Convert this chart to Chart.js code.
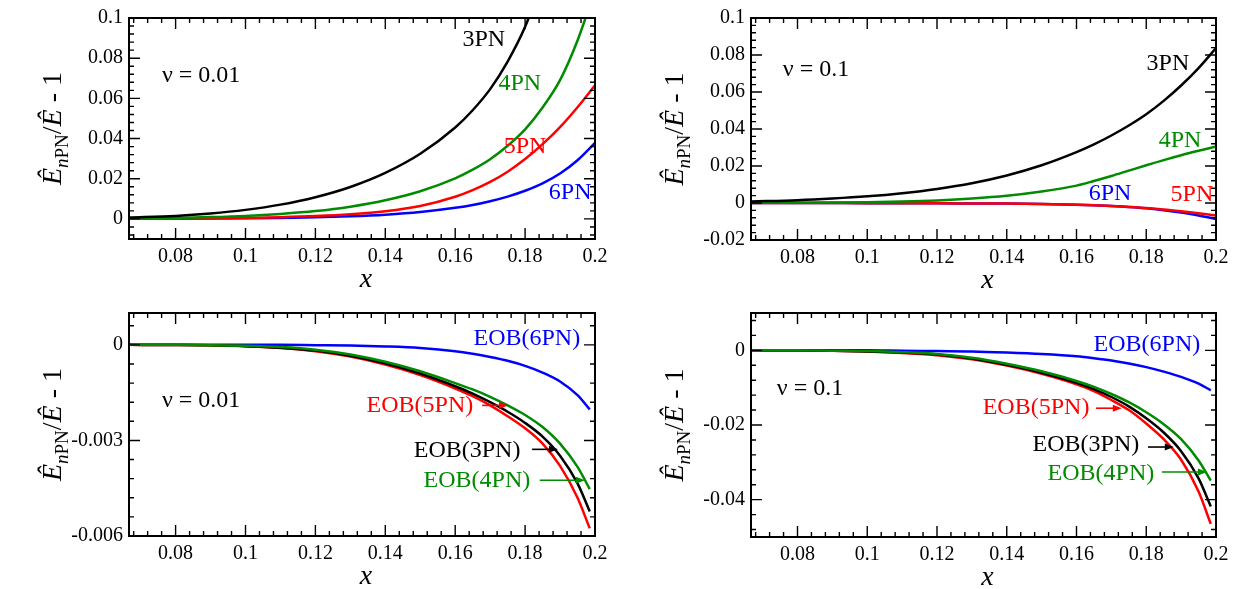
<!DOCTYPE html>
<html>
<head>
<meta charset="utf-8">
<script src="https://cdn.jsdelivr.net/npm/chart.js@4.4.1/dist/chart.umd.min.js"></script>
<style>
  html, body { margin: 0; padding: 0; background: #fff; }
  #wrap { position: relative; width: 1241px; height: 589px; background: #fff; }
  canvas { position: absolute; }
</style>
</head>
<body>
<div id="wrap">
  <canvas id="c1" width="620" height="295" style="left:0px;top:0px;width:620px;height:295px"></canvas>
  <canvas id="c2" width="621" height="295" style="left:620px;top:0px;width:621px;height:295px"></canvas>
  <canvas id="c3" width="620" height="294" style="left:0px;top:295px;width:620px;height:294px"></canvas>
  <canvas id="c4" width="621" height="294" style="left:620px;top:295px;width:621px;height:294px"></canvas>
</div>
<script>
// ---------------- DATA ----------------
const xGridPN  = [0.0667, 0.08, 0.09, 0.1, 0.11, 0.12, 0.13, 0.14, 0.15, 0.16, 0.165, 0.17, 0.175, 0.18, 0.185, 0.19, 0.195, 0.2];
const xGridEOB = [0.0667, 0.08, 0.09, 0.1, 0.11, 0.12, 0.13, 0.14, 0.15, 0.16, 0.165, 0.17, 0.175, 0.18, 0.185, 0.19, 0.195, 0.1985];

// Panel 1: nu = 0.01, PN
const p1_3PN = [0.0007, 0.0015, 0.0027, 0.0045, 0.0071, 0.0108, 0.0159, 0.0229, 0.0324, 0.0455, 0.0541, 0.0646, 0.0783, 0.0956, 0.119, null, null, null];
const p1_4PN = [0.0002, 0.0005, 0.0009, 0.0015, 0.0025, 0.0039, 0.0061, 0.0093, 0.0138, 0.0202, 0.0245, 0.0297, 0.0364, 0.0446, 0.0555, 0.0691, 0.0888, 0.114];
const p1_5PN = [0.00005, 0.00014, 0.00028, 0.0005, 0.00085, 0.0014, 0.0023, 0.0038, 0.0064, 0.011, 0.0143, 0.0184, 0.0235, 0.0298, 0.0372, 0.0457, 0.0556, 0.0665];
const p1_6PN = [0.00003, 0.00008, 0.00016, 0.00028, 0.00048, 0.0008, 0.0013, 0.0021, 0.0034, 0.0055, 0.0069, 0.0088, 0.0111, 0.014, 0.0177, 0.0226, 0.0292, 0.0378];

// Panel 2: nu = 0.1, PN
const p2_3PN = [0.0008, 0.0015, 0.0024, 0.0036, 0.0053, 0.0076, 0.0107, 0.0149, 0.0204, 0.0275, 0.0317, 0.0365, 0.0419, 0.048, 0.0552, 0.0635, 0.0729, 0.0837];
const p2_4PN = [0.00005, 0.00012, 0.00025, 0.00045, 0.0008, 0.0014, 0.0024, 0.0039, 0.0062, 0.0094, 0.0119, 0.0146, 0.0175, 0.0204, 0.0232, 0.0258, 0.0282, 0.0305];
const p2_5PN = [0, 0, -0.00005, -0.0001, -0.00013, -0.00018, -0.00024, -0.0003, -0.0005, -0.0009, -0.0012, -0.0016, -0.0021, -0.0027, -0.0035, -0.0045, -0.0056, -0.0068];
const p2_6PN = [0, 0, -0.00005, -0.0001, -0.00013, -0.00018, -0.00024, -0.0003, -0.0005, -0.0009, -0.0012, -0.0016, -0.0021, -0.0028, -0.0039, -0.0052, -0.0068, -0.0086];

// Panel 3: nu = 0.01, EOB
const p3_EOB3 = [0, -0.000005, -0.000015, -0.00004, -0.00009, -0.00018, -0.00034, -0.00058, -0.0009, -0.0013, -0.00153, -0.0018, -0.0021, -0.00245, -0.00288, -0.00348, -0.00435, -0.00523];
const p3_EOB4 = [0, 0, -0.00001, -0.00003, -0.00007, -0.00015, -0.0003, -0.00053, -0.00083, -0.0012, -0.0014, -0.00163, -0.0019, -0.0022, -0.00258, -0.0031, -0.00383, -0.00453];
const p3_EOB5 = [0, -0.000005, -0.000015, -0.00004, -0.0001, -0.0002, -0.00037, -0.00062, -0.00095, -0.00137, -0.00161, -0.0019, -0.00224, -0.00262, -0.0031, -0.0038, -0.0048, -0.00576];
const p3_EOB6 = [0, 0, 0, 0, 0, -0.00001, -0.00002, -0.00005, -0.0001, -0.0002, -0.00028, -0.00038, -0.0005, -0.00066, -0.00087, -0.00115, -0.00158, -0.00203];

// Panel 4: nu = 0.1, EOB
const p4_EOB3 = [0, 0, -0.0001, -0.0003, -0.0006, -0.0011, -0.0022, -0.0039, -0.006, -0.0087, -0.0104, -0.0125, -0.015, -0.0182, -0.022, -0.027, -0.0343, -0.0418];
const p4_EOB4 = [0, 0, -0.0001, -0.0002, -0.0005, -0.001, -0.002, -0.0036, -0.0056, -0.0082, -0.0098, -0.0117, -0.0139, -0.0166, -0.0198, -0.0238, -0.0295, -0.0349];
const p4_EOB5 = [0, 0, -0.0001, -0.0003, -0.0007, -0.0013, -0.0024, -0.0041, -0.0063, -0.0091, -0.0109, -0.0133, -0.016, -0.0196, -0.0238, -0.0293, -0.0378, -0.0465];
const p4_EOB6 = [0, 0, 0, 0, -0.0001, -0.0002, -0.0003, -0.0006, -0.001, -0.0016, -0.0021, -0.0027, -0.0035, -0.0045, -0.0057, -0.0071, -0.0089, -0.0107];

// Tick labels
const xTickValues = [0.08, 0.1, 0.12, 0.14, 0.16, 0.18, 0.2];
const xTickLabels = ['0.08', '0.1', '0.12', '0.14', '0.16', '0.18', '0.2'];
const p1YTickValues = [0, 0.02, 0.04, 0.06, 0.08, 0.1];
const p1YTickLabels = ['0', '0.02', '0.04', '0.06', '0.08', '0.1'];
const p2YTickValues = [-0.02, 0, 0.02, 0.04, 0.06, 0.08, 0.1];
const p2YTickLabels = ['-0.02', '0', '0.02', '0.04', '0.06', '0.08', '0.1'];
const p3YTickValues = [-0.006, -0.003, 0];
const p3YTickLabels = ['-0.006', '-0.003', '0'];
const p4YTickValues = [-0.04, -0.02, 0];
const p4YTickLabels = ['-0.04', '-0.02', '0'];

// Annotations (data coordinates)
const p1Labels = [
  { text: 'ν = 0.01', x: 0.0873, y: 0.0715, color: '#000' },
  { text: '3PN', x: 0.1682, y: 0.0892, color: '#000' },
  { text: '4PN', x: 0.1785, y: 0.0671, color: '#008b00' },
  { text: '5PN', x: 0.1800, y: 0.0357, color: '#ff0000' },
  { text: '6PN', x: 0.1929, y: 0.0131, color: '#0000ff' }
];
const p2Labels = [
  { text: 'ν = 0.1', x: 0.0853, y: 0.0723, color: '#000' },
  { text: '3PN', x: 0.1862, y: 0.0755, color: '#000' },
  { text: '4PN', x: 0.1897, y: 0.0339, color: '#008b00' },
  { text: '6PN', x: 0.1696, y: 0.0051, color: '#0000ff' },
  { text: '5PN', x: 0.1931, y: 0.0045, color: '#ff0000' }
];
const p3Labels = [
  { text: 'EOB(6PN)', x: 0.1805, y: 0.0002, color: '#0000ff' },
  { text: 'ν = 0.01', x: 0.0873, y: -0.00174, color: '#000' },
  { text: 'EOB(5PN)', x: 0.1499, y: -0.0019, color: '#ff0000' },
  { text: 'EOB(3PN)', x: 0.1634, y: -0.00331, color: '#000' },
  { text: 'EOB(4PN)', x: 0.1662, y: -0.00425, color: '#008b00' }
];
const p3Arrows = [
  { x1: 0.1677, x2: 0.1751, y: -0.0019, color: '#ff0000' },
  { x1: 0.1820, x2: 0.1894, y: -0.00328, color: '#000' },
  { x1: 0.1842, x2: 0.1971, y: -0.00425, color: '#008b00' }
];
const p4Labels = [
  { text: 'EOB(6PN)', x: 0.1802, y: 0.0015, color: '#0000ff' },
  { text: 'ν = 0.1', x: 0.0836, y: -0.0102, color: '#000' },
  { text: 'EOB(5PN)', x: 0.1484, y: -0.0155, color: '#ff0000' },
  { text: 'EOB(3PN)', x: 0.1627, y: -0.0254, color: '#000' },
  { text: 'EOB(4PN)', x: 0.1670, y: -0.0331, color: '#008b00' }
];
const p4Arrows = [
  { x1: 0.1656, x2: 0.1730, y: -0.0155, color: '#ff0000' },
  { x1: 0.1805, x2: 0.1879, y: -0.0259, color: '#000' },
  { x1: 0.1845, x2: 0.1974, y: -0.0326, color: '#008b00' }
];

// ---------------- RENDERING ----------------
const SERIF = '"Liberation Serif", "Times New Roman", serif';
const GREEN = '#008b00';

function series(xs, ys, color) {
  return {
    data: xs.map((x, i) => ({ x: x, y: ys[i] })),
    borderColor: color,
    borderWidth: 2.5,
    pointRadius: 0,
    fill: false,
    cubicInterpolationMode: 'monotone',
    spanGaps: false
  };
}

function range(a, b, step) {
  const out = [];
  const n = Math.round((b - a) / step);
  for (let i = 0; i <= n; i++) out.push(a + i * step);
  return out;
}

function drawYTitle(ctx, cx, cy) {
  ctx.save();
  ctx.translate(cx, cy);
  ctx.rotate(-Math.PI / 2);
  ctx.fillStyle = '#000';
  ctx.textBaseline = 'alphabetic';
  ctx.textAlign = 'left';
  const parts = [
    { t: 'Ê', f: 'italic 28px ' + SERIF, dy: 0 },
    { t: 'n', f: 'italic 19px ' + SERIF, dy: 7 },
    { t: 'PN', f: '19px ' + SERIF, dy: 7 },
    { t: '/', f: '28px ' + SERIF, dy: 0 },
    { t: 'Ê', f: 'italic 28px ' + SERIF, dy: 0 },
    { t: ' - 1', f: '28px ' + SERIF, dy: 0 }
  ];
  let total = 0;
  parts.forEach(p => { ctx.font = p.f; p.w = ctx.measureText(p.t).width; total += p.w; });
  let x = -total / 2;
  parts.forEach(p => { ctx.font = p.f; ctx.fillText(p.t, x, p.dy); x += p.w; });
  ctx.restore();
}

function makePlugin(cfg) {
  return {
    id: 'decor_' + cfg.id,
    afterDatasetsDraw(chart) {
      const ctx = chart.ctx;
      const a = chart.chartArea;
      const xs = chart.scales.x, ys = chart.scales.y;
      ctx.save();
      // inward tick marks on all four sides
      ctx.strokeStyle = '#000';
      ctx.lineWidth = 1.4;
      ctx.beginPath();
      const xt = (v, len) => {
        const px = xs.getPixelForValue(v);
        ctx.moveTo(px, a.bottom); ctx.lineTo(px, a.bottom - len);
        ctx.moveTo(px, a.top); ctx.lineTo(px, a.top + len);
      };
      const yt = (v, len) => {
        const py = ys.getPixelForValue(v);
        ctx.moveTo(a.left, py); ctx.lineTo(a.left + len, py);
        ctx.moveTo(a.right, py); ctx.lineTo(a.right - len, py);
      };
      cfg.xMinor.forEach(v => xt(v, 5));
      cfg.xMajor.forEach(v => xt(v, 11));
      cfg.yMinor.forEach(v => yt(v, 5));
      cfg.yMajor.forEach(v => yt(v, 11));
      ctx.stroke();
      // frame
      ctx.lineWidth = 2;
      ctx.strokeRect(a.left, a.top, a.right - a.left, a.bottom - a.top);
      // annotations
      ctx.font = '24px ' + SERIF;
      ctx.textAlign = 'center';
      ctx.textBaseline = 'middle';
      cfg.labels.forEach(l => {
        ctx.fillStyle = l.color;
        ctx.fillText(l.text, xs.getPixelForValue(l.x), ys.getPixelForValue(l.y));
      });
      (cfg.arrows || []).forEach(ar => {
        const x1 = xs.getPixelForValue(ar.x1), x2 = xs.getPixelForValue(ar.x2), y = ys.getPixelForValue(ar.y);
        ctx.strokeStyle = ar.color; ctx.fillStyle = ar.color; ctx.lineWidth = 1.6;
        ctx.beginPath(); ctx.moveTo(x1, y); ctx.lineTo(x2 - 6, y); ctx.stroke();
        ctx.beginPath(); ctx.moveTo(x2, y); ctx.lineTo(x2 - 9, y - 3.5); ctx.lineTo(x2 - 9, y + 3.5); ctx.closePath(); ctx.fill();
      });
      // axis titles
      ctx.fillStyle = '#000';
      ctx.font = 'italic 28px ' + SERIF;
      ctx.textAlign = 'center';
      ctx.textBaseline = 'alphabetic';
      ctx.fillText('x', (a.left + a.right) / 2 + 4, a.bottom + 48);
      ctx.restore();
      drawYTitle(ctx, a.left - 68, (a.top + a.bottom) / 2);
    }
  };
}

function makeChart(cfg) {
  const el = document.getElementById(cfg.id);
  return new Chart(el, {
    type: 'line',
    data: { datasets: cfg.datasets },
    plugins: [makePlugin(cfg)],
    options: {
      responsive: false,
      animation: false,
      devicePixelRatio: 1,
      layout: { padding: { top: cfg.padTop, right: cfg.padRight, left: 0, bottom: 0 } },
      plugins: { legend: { display: false }, tooltip: { enabled: false } },
      scales: {
        x: {
          type: 'linear', min: 1 / 15, max: 0.2, bounds: 'data',
          grid: { display: false, drawTicks: false },
          border: { display: false },
          ticks: {
            color: '#000', font: { family: SERIF, size: 20 }, padding: 6, maxRotation: 0,
            callback: (v, i) => xTickLabels[i]
          },
          afterBuildTicks: s => { s.ticks = xTickValues.map(v => ({ value: v })); },
          afterFit: s => { s.height = cfg.xHeight; }
        },
        y: {
          type: 'linear', min: cfg.yMin, max: cfg.yMax, bounds: 'data',
          grid: { display: false, drawTicks: false },
          border: { display: false },
          ticks: {
            color: '#000', font: { family: SERIF, size: 20 }, padding: 6,
            callback: (v, i) => cfg.yLabels[i]
          },
          afterBuildTicks: s => { s.ticks = cfg.yValues.map(v => ({ value: v })); },
          afterFit: s => { s.width = cfg.yWidth; }
        }
      }
    }
  });
}

const xMajor = xTickValues;
const xMinor = range(0.068, 0.2, 0.004);

makeChart({
  id: 'c1', padTop: 15, padRight: 25, yWidth: 129, xHeight: 56,
  yMin: -0.01, yMax: 0.1, yValues: p1YTickValues, yLabels: p1YTickLabels,
  xMajor: xMajor, xMinor: xMinor, yMajor: p1YTickValues, yMinor: range(-0.008, 0.1, 0.004),
  labels: p1Labels,
  datasets: [
    series(xGridPN, p1_3PN, '#000000'),
    series(xGridPN, p1_4PN, GREEN),
    series(xGridPN, p1_5PN, '#ff0000'),
    series(xGridPN, p1_6PN, '#0000ff')
  ]
});
makeChart({
  id: 'c2', padTop: 15, padRight: 25, yWidth: 131, xHeight: 55,
  yMin: -0.02, yMax: 0.1, yValues: p2YTickValues, yLabels: p2YTickLabels,
  xMajor: xMajor, xMinor: xMinor, yMajor: p2YTickValues, yMinor: range(-0.02, 0.1, 0.004),
  labels: p2Labels,
  datasets: [
    series(xGridPN, p2_3PN, '#000000'),
    series(xGridPN, p2_4PN, GREEN),
    series(xGridPN, p2_5PN, '#ff0000'),
    series(xGridPN, p2_6PN, '#0000ff')
  ]
});
makeChart({
  id: 'c3', padTop: 17, padRight: 25, yWidth: 129, xHeight: 53,
  yMin: -0.006, yMax: 0.001, yValues: p3YTickValues, yLabels: p3YTickLabels,
  xMajor: xMajor, xMinor: xMinor, yMajor: p3YTickValues, yMinor: range(-0.006, 0.0006, 0.0006),
  labels: p3Labels, arrows: p3Arrows,
  datasets: [
    series(xGridEOB, p3_EOB4, GREEN),
    series(xGridEOB, p3_EOB3, '#000000'),
    series(xGridEOB, p3_EOB5, '#ff0000'),
    series(xGridEOB, p3_EOB6, '#0000ff')
  ]
});
makeChart({
  id: 'c4', padTop: 17, padRight: 25, yWidth: 131, xHeight: 52,
  yMin: -0.05, yMax: 0.01, yValues: p4YTickValues, yLabels: p4YTickLabels,
  xMajor: xMajor, xMinor: xMinor, yMajor: p4YTickValues, yMinor: range(-0.048, 0.008, 0.004),
  labels: p4Labels, arrows: p4Arrows,
  datasets: [
    series(xGridEOB, p4_EOB4, GREEN),
    series(xGridEOB, p4_EOB3, '#000000'),
    series(xGridEOB, p4_EOB5, '#ff0000'),
    series(xGridEOB, p4_EOB6, '#0000ff')
  ]
});
</script>
</body>
</html>
